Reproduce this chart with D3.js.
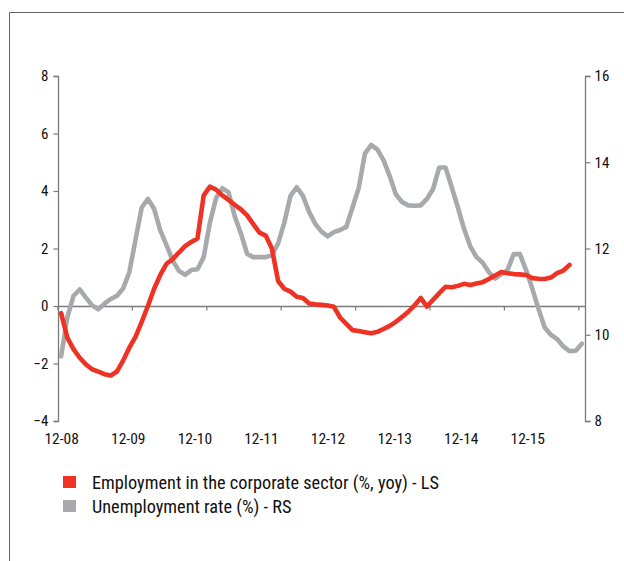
<!DOCTYPE html>
<html>
<head>
<meta charset="utf-8">
<script src="https://cdn.jsdelivr.net/npm/d3@7"></script>
<style>
  html, body { margin: 0; padding: 0; background: #fff; }
  svg text { font-family: "Liberation Sans Narrow", "Arial Narrow", "Roboto Condensed", "Liberation Sans", sans-serif; fill: #111; }
</style>
</head>
<body>
<svg id="chart" width="624" height="561"></svg>
<script>
// Monthly observations, Dec 2008 – Dec 2015
const months = d3.range(85).map(i => new Date(2008, 11 + i, 1));

// Employment in the corporate sector, % yoy (left scale) – ends Oct 2015
const employment = [
  -0.25, -1.1, -1.5, -1.8, -2.03, -2.2, -2.28, -2.37, -2.42, -2.28, -1.9, -1.45,
  -1.07, -0.55, 0.0, 0.6, 1.08, 1.47, 1.63, 1.86, 2.08, 2.23, 2.35, 3.85,
  4.15, 4.05, 3.85, 3.69, 3.52, 3.36, 3.15, 2.85, 2.55, 2.45, 2.0, 0.87,
  0.6, 0.5, 0.32, 0.28, 0.09, 0.06, 0.04, 0.02, -0.03, -0.4, -0.62, -0.84,
  -0.87, -0.91, -0.95, -0.9, -0.8, -0.69, -0.55, -0.38, -0.2, 0.02, 0.28, -0.02,
  0.22, 0.45, 0.67, 0.65, 0.7, 0.77, 0.73, 0.78, 0.83, 0.94, 1.06, 1.18,
  1.14, 1.11, 1.1, 1.08, 0.97, 0.95, 0.94, 0.99, 1.14, 1.23, 1.43
];

// Unemployment rate, % (right scale)
const unemployment = [
  9.5, 10.4, 10.9, 11.05, 10.86, 10.68, 10.59, 10.72, 10.83, 10.9, 11.07, 11.45,
  12.2, 12.95, 13.15, 12.92, 12.42, 12.08, 11.72, 11.48, 11.39, 11.5, 11.52, 11.8,
  12.6, 13.17, 13.4, 13.3, 12.75, 12.35, 11.88, 11.8, 11.8, 11.8, 11.85, 12.12,
  12.6, 13.22, 13.42, 13.22, 12.85, 12.57, 12.39, 12.28, 12.38, 12.43, 12.5, 12.95,
  13.4, 14.2, 14.4, 14.3, 14.05, 13.68, 13.25, 13.08, 13.0, 12.99, 13.0, 13.15,
  13.38, 13.88, 13.88, 13.42, 12.95, 12.45, 12.05, 11.8, 11.67, 11.45, 11.3, 11.4,
  11.5, 11.87, 11.87, 11.5, 11.07, 10.6, 10.17, 10.0, 9.9, 9.73, 9.62, 9.63, 9.79
];

const xLabels = ["12-08", "12-09", "12-10", "12-11", "12-12", "12-13", "12-14", "12-15"];
const leftTicks = [-4, -2, 0, 2, 4, 6, 8];
const rightTicks = [8, 10, 12, 14, 16];

const legendItems = [
  { label: "Employment in the corporate sector (%, yoy) - LS", color: "#ee3224" },
  { label: "Unemployment rate (%) - RS", color: "#a8a9ac" }
];

const svg = d3.select("#chart");
const axisColor = "#7a7a7a";

// outer frame (top and left edges)
svg.append("path")
  .attr("d", "M9.5,561 V12.5 H624")
  .attr("fill", "none").attr("stroke", "#666").attr("stroke-width", 1);

// scales
const x = d3.scaleBand().domain(d3.range(months.length)).range([58, 585]).padding(0);
const yL = d3.scaleLinear().domain([-4, 8]).range([421, 76]);
const yR = d3.scaleLinear().domain([8, 16]).range([421, 76]);
const xLab = d3.scalePoint().domain(xLabels).range([61.7, 527.8]);

const cx = i => x(i) + x.bandwidth() / 2;

// left axis
const gL = svg.append("g").attr("transform", "translate(58.5,0)")
  .call(d3.axisLeft(yL).tickValues(leftTicks).tickSize(5).tickPadding(5).tickFormat(d3.format("d")));
// right axis
const gR = svg.append("g").attr("transform", "translate(585.5,0)")
  .call(d3.axisRight(yR).tickValues(rightTicks).tickSize(5).tickPadding(4).tickFormat(d3.format("d")));
[gL, gR].forEach(g => {
  g.select(".domain").attr("stroke", axisColor).attr("stroke-width", 1.3)
    .attr("d", g === gL ? "M-5,76.5H0V421.5H-5" : "M5,76.5H0V421.5H5");
  g.selectAll(".tick line").attr("stroke", axisColor).attr("stroke-width", 1.2);
  g.selectAll(".tick text").attr("font-size", 15).style("font-family", null);
});

// horizontal zero axis with yearly ticks
const zeroY = Math.round(yL(0)) + 0.5;
const gX = svg.append("g").attr("transform", `translate(0,${zeroY})`)
  .call(d3.axisBottom(x).tickValues(d3.range(0, 85, 12)).tickSize(4).tickFormat(""));
gX.select(".domain").attr("stroke", axisColor).attr("stroke-width", 1.3).attr("d", "M58,0H585");
gX.selectAll(".tick").attr("transform", d => `translate(${x(d)},0)`);
gX.selectAll(".tick line").attr("stroke", axisColor).attr("stroke-width", 1.2);

// date labels
svg.append("g").selectAll("text").data(xLabels).join("text")
  .attr("x", d => xLab(d)).attr("y", 444)
  .attr("text-anchor", "middle").attr("font-size", 15.5)
  .text(d => d);

// series lines
const lineL = d3.line().x((d, i) => cx(i)).y(d => yL(d)).curve(d3.curveLinear);
const lineR = d3.line().x((d, i) => cx(i)).y(d => yR(d)).curve(d3.curveLinear);

svg.append("path").datum(unemployment)
  .attr("d", lineR).attr("fill", "none")
  .attr("stroke", legendItems[1].color).attr("stroke-width", 4.6)
  .attr("stroke-linejoin", "round").attr("stroke-linecap", "round");

svg.append("path").datum(employment)
  .attr("d", lineL).attr("fill", "none")
  .attr("stroke", legendItems[0].color).attr("stroke-width", 4.6)
  .attr("stroke-linejoin", "round").attr("stroke-linecap", "round");

// legend
const lg = svg.append("g").selectAll("g").data(legendItems).join("g")
  .attr("transform", (d, i) => `translate(63,${476 + i * 24})`);
lg.append("rect").attr("width", 13).attr("height", 12).attr("fill", d => d.color);
lg.append("text").attr("x", 29).attr("y", 12.5).attr("font-size", 18.3).text(d => d.label);
</script>
</body>
</html>
